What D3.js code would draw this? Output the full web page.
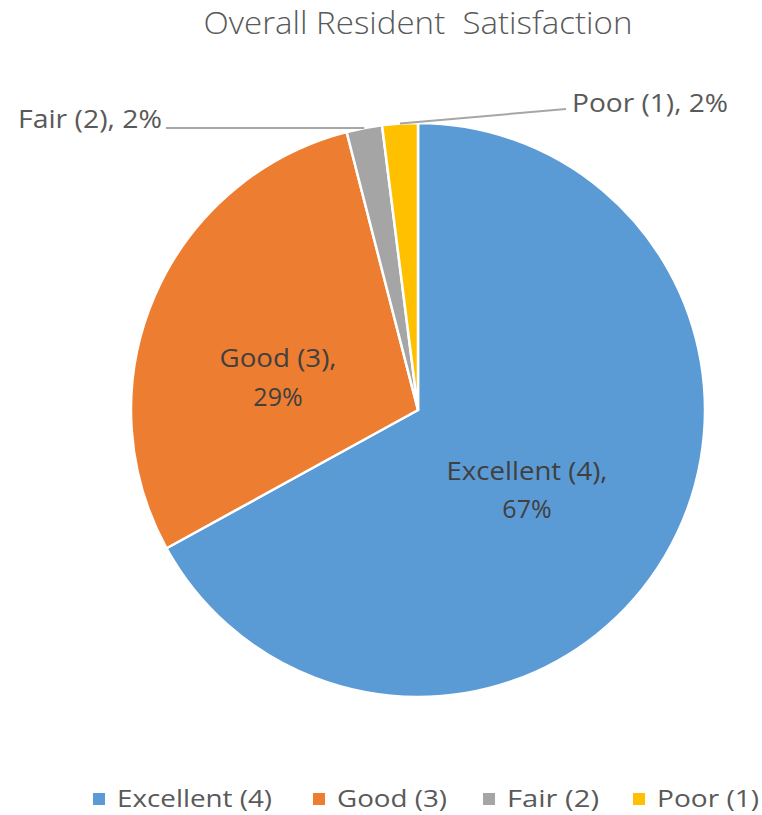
<!DOCTYPE html>
<html><head><meta charset="utf-8">
<script src="https://cdn.jsdelivr.net/npm/d3@7"></script>
<style>body{margin:0;background:#fff}</style>
</head><body>
<svg id="c" width="762" height="815"></svg>
<script>
const categories = ["Excellent (4)", "Good (3)", "Fair (2)", "Poor (1)"];
const values = [67, 29, 2, 2];
const colors = ["#5B9BD5", "#ED7D31", "#A5A5A5", "#FFC000"];
const title = "Overall Resident\u00A0 Satisfaction";

const svg = d3.select("#c");
const font = "'Open Sans', 'Noto Sans', sans-serif";
const cx = 418, cy = 410, r = 287;

svg.append("text").attr("x", 418).attr("y", 34).attr("text-anchor", "middle")
  .attr("font-family", font).attr("font-size", 32).attr("font-weight", 300)
  .attr("fill", "#595959").attr("textLength", 429).attr("lengthAdjust", "spacingAndGlyphs")
  .text(title);

const pie = d3.pie().sort(null).value(d => d).startAngle(0).endAngle(2 * Math.PI);
const arcs = pie(values);
const arc = d3.arc().innerRadius(0).outerRadius(r);
const g = svg.append("g").attr("transform", `translate(${cx},${cy})`);
g.selectAll("path").data(arcs).join("path")
  .attr("d", arc).attr("fill", (d, i) => colors[i])
  .attr("stroke", "#fff").attr("stroke-width", 2.5).attr("stroke-linejoin", "round");

const total = d3.sum(values);
const pct = v => Math.round(v / total * 100) + "%";

// inside labels
const inside = [
  {i: 0, x: 527, y1: 480, y2: 518, w1: 161},
  {i: 1, x: 278, y1: 367, y2: 406, w1: 117}
];
inside.forEach(o => {
  const t = svg.append("text").attr("text-anchor", "middle").attr("font-family", font)
    .attr("font-size", 25).attr("fill", "#404040");
  t.append("tspan").attr("x", o.x).attr("y", o.y1).attr("textLength", o.w1)
    .attr("lengthAdjust", "spacingAndGlyphs").text(categories[o.i] + ",");
  t.append("tspan").attr("x", o.x).attr("y", o.y2).text(pct(values[o.i]));
});

// outside labels with leaders
const outside = [
  {i: 2, tx: 18, ty: 128, w: 144, lx: 166, ly: 128},
  {i: 3, tx: 572, ty: 112, w: 156, lx: 566, ly: 109}
];
const arcEdge = d3.arc().innerRadius(r).outerRadius(r);
outside.forEach(o => {
  const c = arcEdge.centroid(arcs[o.i]);
  const px = cx + c[0], py = cy + c[1];
  svg.append("line").attr("x1", o.lx).attr("y1", o.ly).attr("x2", px).attr("y2", py)
    .attr("stroke", "#A6A6A6").attr("stroke-width", 2);
  svg.append("text").attr("x", o.tx).attr("y", o.ty).attr("font-family", font)
    .attr("font-size", 25).attr("fill", "#595959")
    .attr("textLength", o.w).attr("lengthAdjust", "spacingAndGlyphs")
    .text(categories[o.i] + ", " + pct(values[o.i]));
});

// legend
const legendX = [93, 313, 483, 633];
const legendW = [155, 110, 92, 102];
const lg = svg.append("g");
categories.forEach((c, i) => {
  lg.append("rect").attr("x", legendX[i]).attr("y", 793).attr("width", 12).attr("height", 12)
    .attr("fill", colors[i]);
  lg.append("text").attr("x", legendX[i] + 24).attr("y", 807).attr("font-family", font)
    .attr("font-size", 23).attr("fill", "#595959")
    .attr("textLength", legendW[i]).attr("lengthAdjust", "spacingAndGlyphs").text(c);
});
</script>
</body></html>
